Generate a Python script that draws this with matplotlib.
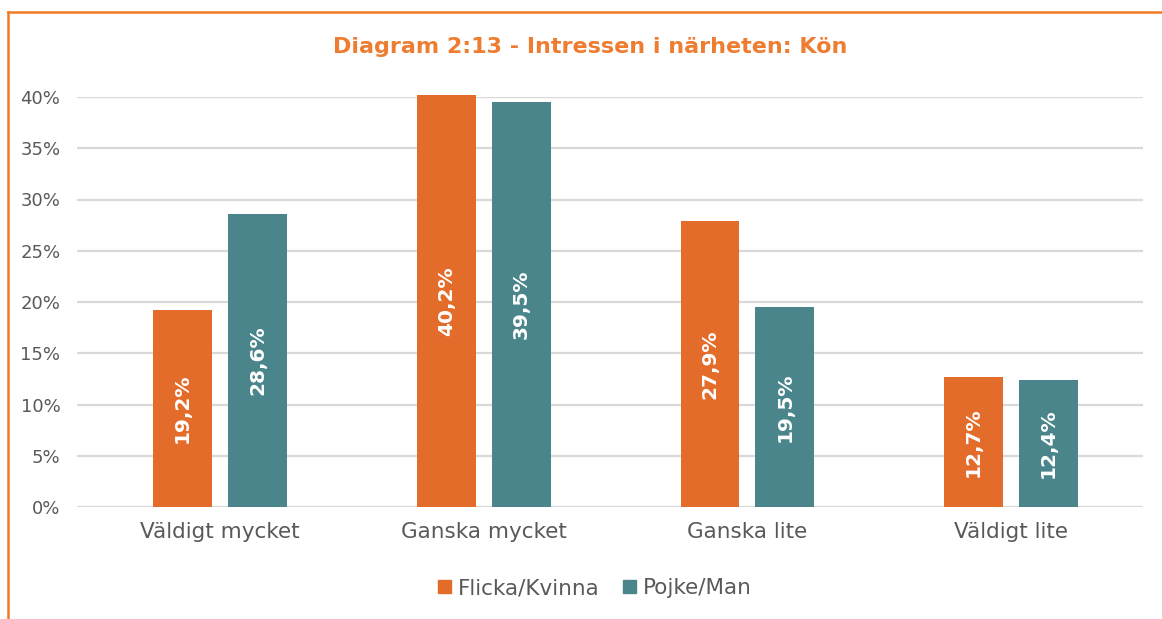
import numpy as np
import matplotlib
matplotlib.use('Agg')
import matplotlib.pyplot as plt
from matplotlib.lines import Line2D
from matplotlib.patches import Patch

# data
categories = ['Väldigt mycket', 'Ganska mycket', 'Ganska lite', 'Väldigt lite']
flicka = [19.2, 40.2, 27.9, 12.7]
pojke = [28.6, 39.5, 19.5, 12.4]
series_names = ['Flicka/Kvinna', 'Pojke/Man']
yticks = [0, 5, 10, 15, 20, 25, 30, 35, 40]

orange = '#E46C2B'
teal = '#4B858C'
gray = '#595959'

plt.rcParams['font.family'] = ['DejaVu Sans']

fig = plt.figure(figsize=(11.62, 6.19), dpi=100)
ax = fig.add_axes([77/1162, 1-507/619, (1143-77)/1162, (507-97)/619])

x = np.arange(len(categories))
w = 0.223
off = 0.142
b1 = ax.bar(x - off, flicka, w, color=orange, clip_on=False, zorder=3)
b2 = ax.bar(x + off, pojke, w, color=teal, clip_on=False, zorder=3)

for bars, vals in ((b1, flicka), (b2, pojke)):
    for r, v in zip(bars, vals):
        ax.text(r.get_x() + r.get_width()/2, v/2, f'{v:.1f}%'.replace('.', ','),
                rotation=90, ha='center', va='center', color='white',
                fontsize=14.5, fontweight='bold', zorder=4)

ax.set_xlim(-0.542, 3.5)
ax.set_ylim(0, 40)
ax.set_yticks(yticks)
ax.set_yticklabels([f'{t}%' for t in yticks])
ax.set_xticks(x)
ax.set_xticklabels(categories)
ax.tick_params(axis='both', length=0, colors=gray)
ax.tick_params(axis='x', pad=11, labelsize=15.5)
ax.tick_params(axis='y', pad=12, labelsize=13)
ax.grid(axis='y', color='#D9D9D9', lw=1.6, zorder=0)
ax.set_axisbelow(True)
for s in ax.spines.values():
    s.set_visible(False)

fig.text(590/1162, 1-47/619, 'Diagram 2:13 - Intressen i närheten: Kön',
         ha='center', va='center', color='#EE7D31', fontsize=16, fontweight='bold')

handles = [Patch(color=orange), Patch(color=teal)]
fig.legend(handles, series_names, loc='center', bbox_to_anchor=(595/1162, 1-588/619),
           ncol=2, frameon=False, fontsize=15.5, labelcolor=gray,
           handlelength=0.6, handleheight=0.6, handletextpad=0.3, columnspacing=1.1)

# orange frame (top and left edges visible)
fig.add_artist(Line2D([8/1162, 8/1162], [0, 1-12/619], color='#F07B25', lw=1.8))
fig.add_artist(Line2D([8/1162, 1], [1-12/619, 1-12/619], color='#F07B25', lw=1.8))

fig.savefig('out.png', dpi=100)
